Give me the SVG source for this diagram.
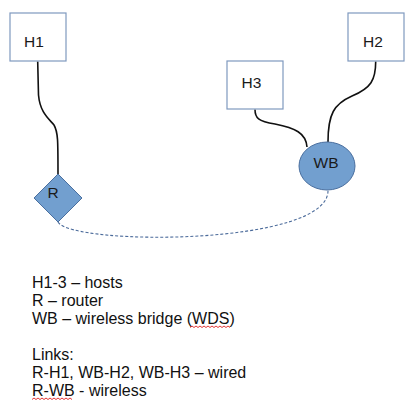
<svg xmlns="http://www.w3.org/2000/svg" width="412" height="405" viewBox="0 0 412 405">
<style>
.box{fill:#ffffff;stroke:#7f99bf;stroke-width:1.2}
.blue{fill:#729fcf;stroke:#4a6f9f;stroke-width:1}
.lbl{font-family:"Liberation Sans",Arial,sans-serif;font-size:15.5px;fill:#1a1a1a;text-anchor:middle}
.leg{font-family:"Liberation Sans",Arial,sans-serif;font-size:16px;fill:#111111}
.wire{fill:none;stroke:#111111;stroke-width:1.6}
.wl{fill:none;stroke:#4a6a9a;stroke-width:1.1;stroke-dasharray:3,2}
.sq{fill:none;stroke:#e02020;stroke-width:0.9}
</style>
<rect width="412" height="405" fill="#ffffff"/>
<g id="connectors">
<path class="wire" d="M37.7,61.5 L38.5,95 C40,112 48,118 54,125 C58,132 58,140 58,174"/>
<path class="wire" d="M255,109.5 C255,118 258,121 275,124 C295,128 306,133 307,147"/>
<path class="wire" d="M375.7,61.5 C375.7,80 371,88 352,96 C334,104 328,114 328,142"/>
<path class="wl" d="M58,222 C72,246 330,246 328,190"/>
</g>
<g id="H1"><rect class="box" x="10" y="13" width="56" height="48"/><text class="lbl" x="34" y="47">H1</text></g>
<g id="H2"><rect class="box" x="348" y="13" width="56" height="48"/><text class="lbl" x="373" y="47">H2</text></g>
<g id="H3"><rect class="box" x="227" y="61" width="56" height="48"/><text class="lbl" x="251.5" y="88">H3</text></g>
<g id="WB"><ellipse class="blue" cx="327" cy="166" rx="28" ry="24"/><text class="lbl" x="326" y="168">WB</text></g>
<g id="R"><polygon class="blue" points="58,174 82,198 58,222 34,198"/><text class="lbl" x="53" y="198">R</text></g>
<g id="legend">
<text class="leg" x="32" y="288">H1-3 – hosts</text>
<text class="leg" x="32" y="306">R – router</text>
<text class="leg" x="32" y="324">WB – wireless bridge (WDS)</text>
<text class="leg" x="32" y="360">Links:</text>
<text class="leg" x="32" y="378">R-H1, WB-H2, WB-H3 – wired</text>
<text class="leg" x="32" y="396">R-WB - wireless</text>
<path class="sq" d="M190,327.5 l2,-1.5 l2,1.5 l2,-1.5 l2,1.5 l2,-1.5 l2,1.5 l2,-1.5 l2,1.5 l2,-1.5 l2,1.5 l2,-1.5 l2,1.5 l2,-1.5 l2,1.5 l2,-1.5 l2,1.5 l2,-1.5 l2,1.5 l2,-1.5 l2,1.5"/>
<path class="sq" d="M32,399.5 l2,-1.5 l2,1.5 l2,-1.5 l2,1.5 l2,-1.5 l2,1.5 l2,-1.5 l2,1.5 l2,-1.5 l2,1.5 l2,-1.5 l2,1.5 l2,-1.5 l2,1.5 l2,-1.5 l2,1.5 l2,-1.5 l2,1.5 l2,-1.5 l2,1.5"/>
</g>
</svg>
